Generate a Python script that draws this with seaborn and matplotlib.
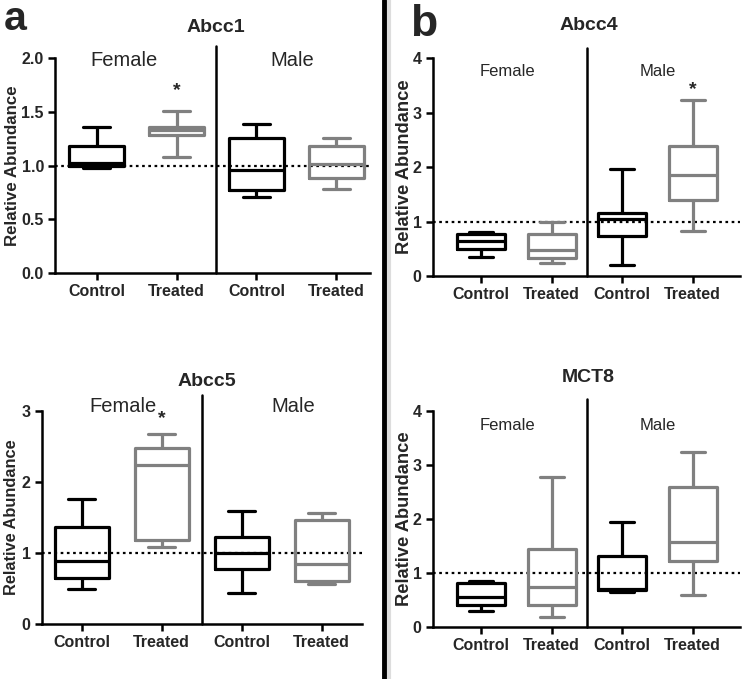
import matplotlib
matplotlib.use("Agg")
import matplotlib.pyplot as plt
from matplotlib.lines import Line2D
import pandas as pd
import seaborn as sns

sexes = ["Female", "Male"]
treatments = ["Control", "Treated"]
tick_labels = ["Control", "Treated", "Control", "Treated"]

# five-number summaries: min, q1, median, q3, max
abcc1_female_control = [0.98, 1.00, 1.02, 1.18, 1.36]
abcc1_female_treated = [1.08, 1.28, 1.33, 1.355, 1.51]
abcc1_male_control = [0.71, 0.775, 0.955, 1.255, 1.39]
abcc1_male_treated = [0.78, 0.88, 1.01, 1.185, 1.26]

abcc5_female_control = [0.49, 0.65, 0.885, 1.37, 1.76]
abcc5_female_treated = [1.09, 1.185, 2.24, 2.475, 2.675]
abcc5_male_control = [0.44, 0.77, 1.00, 1.22, 1.595]
abcc5_male_treated = [0.56, 0.605, 0.85, 1.465, 1.56]

abcc4_female_control = [0.355, 0.49, 0.635, 0.77, 0.80]
abcc4_female_treated = [0.245, 0.325, 0.48, 0.78, 1.00]
abcc4_male_control = [0.20, 0.74, 1.045, 1.155, 1.975]
abcc4_male_treated = [0.82, 1.40, 1.86, 2.39, 3.235]

mct8_female_control = [0.30, 0.405, 0.555, 0.815, 0.85]
mct8_female_treated = [0.195, 0.41, 0.74, 1.45, 2.785]
mct8_male_control = [0.65, 0.69, 0.70, 1.325, 1.94]
mct8_male_treated = [0.60, 1.22, 1.575, 2.59, 3.24]

panels = {
    "Abcc1": [abcc1_female_control, abcc1_female_treated, abcc1_male_control, abcc1_male_treated],
    "Abcc5": [abcc5_female_control, abcc5_female_treated, abcc5_male_control, abcc5_male_treated],
    "Abcc4": [abcc4_female_control, abcc4_female_treated, abcc4_male_control, abcc4_male_treated],
    "MCT8": [mct8_female_control, mct8_female_treated, mct8_male_control, mct8_male_treated],
}
yticks = {"Abcc1": [0, 0.5, 1.0, 1.5, 2.0], "Abcc5": [0, 1, 2, 3],
          "Abcc4": [0, 1, 2, 3, 4], "MCT8": [0, 1, 2, 3, 4]}
# significance stars: (category index, height)
stars = {"Abcc1": (1, 1.70), "Abcc5": (1, 2.89), "Abcc4": (3, 3.42)}

sns.set_style("white")
plt.rcParams["font.family"] = ["Liberation Sans", "DejaVu Sans"]

W, H = 742, 679
fig = plt.figure(figsize=(W / 100, H / 100), dpi=100)

# axes boxes in pixels: left, right, top(ymax), bottom(y=0)
layout = {
    "Abcc1": dict(px=(55, 370, 58, 273), xlim=(-0.52, 3.42), title=(216, 28), fs=14.5,
                  lab=(0.34, 2.45, 1.98), ylab=-0.11, ylfs=12.2, div=2.11, fmt="%.1f"),
    "Abcc5": dict(px=(41.7, 361.7, 411, 624), xlim=(-0.5, 3.5), title=(207, 382), fs=14.5,
                  lab=(0.52, 2.64, 3.06), ylab=-0.071, ylfs=11.8, div=3.23, fmt="%d"),
    "Abcc4": dict(px=(432.7, 740, 58.3, 276), xlim=(-0.685, 3.67), title=(589, 25), fs=12,
                  lab=(0.38, 2.5, 3.75), ylab=-0.064, ylfs=13.2, div=4.19, fmt="%d"),
    "MCT8": dict(px=(432.7, 740, 411, 627.3), xlim=(-0.685, 3.67), title=(588, 377), fs=12,
                 lab=(0.38, 2.5, 3.74), ylab=-0.064, ylfs=13.2, div=4.22, fmt="%d"),
}
palette = {"Control": "black", "Treated": "#808080"}

for name, groups in panels.items():
    cfg = layout[name]
    l, r, t, b = cfg["px"]
    ax = fig.add_axes([l / W, 1 - b / H, (r - l) / W, (b - t) / H])

    rows = []
    order = []
    for i, vals in enumerate(groups):
        sex = sexes[i // 2]
        trt = treatments[i % 2]
        key = sex + " " + trt
        order.append(key)
        for v in vals:
            rows.append({"group": key, "treatment": trt, "value": v})
    df = pd.DataFrame(rows)

    sns.boxplot(data=df, x="group", y="value", hue="treatment", order=order,
                palette=palette, fill=False, whis=(0, 100), width=0.68,
                linewidth=2.3, legend=False, ax=ax)

    ymax = yticks[name][-1]
    ax.set_ylim(0, ymax)
    ax.set_xlim(*cfg["xlim"])
    ax.set_yticks(yticks[name])
    ax.yaxis.set_major_formatter(matplotlib.ticker.FormatStrFormatter(cfg["fmt"]))
    ax.set_xticks(range(4))
    ax.set_xticklabels(tick_labels)
    for lab in ax.get_xticklabels() + ax.get_yticklabels():
        lab.set_fontweight("bold")
        lab.set_fontsize(11.5)
    ax.tick_params(axis="both", direction="out", length=5, width=1.8, color="black",
                   pad=3, left=True, bottom=True)
    sns.despine(ax=ax)
    for s in ["left", "bottom"]:
        ax.spines[s].set_linewidth(1.8)
        ax.spines[s].set_color("black")
    ax.set_xlabel("")
    ax.set_ylabel("Relative Abundance", fontsize=cfg["ylfs"], fontweight="bold")
    ax.yaxis.set_label_coords(cfg["ylab"], 0.5)

    ax.axhline(1.0, color="black", ls=(0, (1.2, 1.6)), lw=1.6, zorder=0)
    ax.plot([1.5, 1.5], [0, cfg["div"]], color="black", lw=1.8, clip_on=False)

    fx, mx, ly = cfg["lab"]
    ax.text(fx, ly, "Female", ha="center", va="center", fontsize=cfg["fs"])
    ax.text(mx, ly, "Male", ha="center", va="center", fontsize=cfg["fs"])
    if name in stars:
        si, sy = stars[name]
        ax.text(si, sy, "*", ha="center", va="center", fontsize=14, fontweight="bold")

    tx, ty = cfg["title"]
    fig.text(tx / W, 1 - ty / H, name, ha="center", va="center",
             fontsize=14, fontweight="bold")

fig.text(15 / W, 1 - 30.5 / H, "a", ha="center", va="baseline", fontsize=29.5, fontweight="bold")
fig.text(424 / W, 1 - 36.5 / H, "b", ha="center", va="baseline", fontsize=32, fontweight="bold")
fig.add_artist(Line2D([389 / W, 389 / W], [0, 1], color="#dddddd", lw=3))
fig.add_artist(Line2D([384 / W, 384 / W], [0, 1], color="black", lw=3.5))

fig.savefig("out.png", dpi=100)
